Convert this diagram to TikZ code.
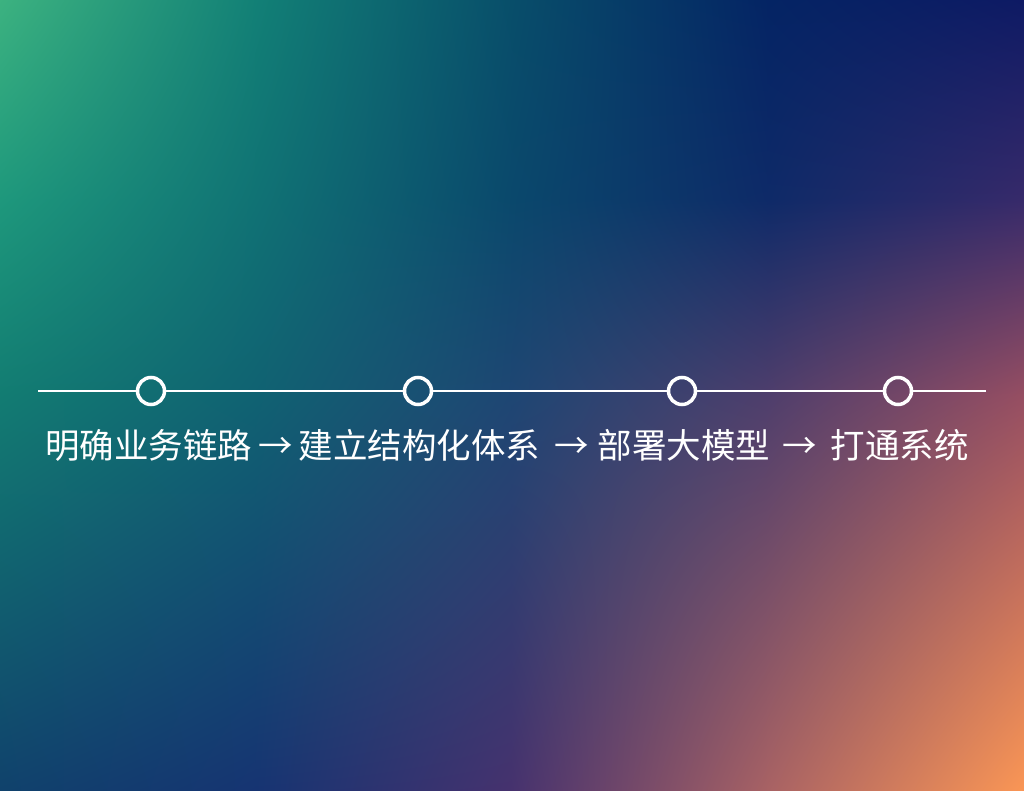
\documentclass[tikz,border=0pt]{standalone}
\usepackage{fontspec}
\newfontfamily\cjk{Noto Sans CJK SC}
\usetikzlibrary{positioning,shadings}
% background colours: four rows (top, upper, middle, bottom), five columns each
\definecolor{bgT0}{RGB}{60,178,128}
\definecolor{bgT1}{RGB}{18,128,118}
\definecolor{bgT2}{RGB}{8,78,106}
\definecolor{bgT3}{RGB}{4,36,100}
\definecolor{bgT4}{RGB}{14,26,100}
\definecolor{bgU0}{RGB}{30,152,124}
\definecolor{bgU1}{RGB}{16,114,116}
\definecolor{bgU2}{RGB}{10,72,108}
\definecolor{bgU3}{RGB}{14,42,104}
\definecolor{bgU4}{RGB}{55,42,106}
\definecolor{bgM0}{RGB}{18,124,114}
\definecolor{bgM1}{RGB}{16,98,114}
\definecolor{bgM2}{RGB}{30,70,115}
\definecolor{bgM3}{RGB}{78,62,108}
\definecolor{bgM4}{RGB}{150,78,98}
\definecolor{bgB0}{RGB}{16,66,108}
\definecolor{bgB1}{RGB}{22,52,114}
\definecolor{bgB2}{RGB}{70,50,110}
\definecolor{bgB3}{RGB}{168,98,100}
\definecolor{bgB4}{RGB}{250,150,85}
\tikzset{
  stop/.style={circle, draw=white, line width=3.5pt, minimum size=27pt, inner sep=0pt},
  rail/.style={draw=white, line width=2pt}
}
\begin{document}
\begin{tikzpicture}[x=1pt,y=1pt]
    \useasboundingbox (0,0) rectangle (1024,790);
    % background
    \foreach \i [evaluate=\i as \j using int(\i+1)] in {0,...,3} {
      \shade [upper left=bgT\i, upper right=bgT\j, lower left=bgU\i, lower right=bgU\j]
        (256*\i-0.5,589.5) rectangle (256*\j+0.5,790);
      \shade [upper left=bgU\i, upper right=bgU\j, lower left=bgM\i, lower right=bgM\j]
        (256*\i-0.5,394.5) rectangle (256*\j+0.5,590.5);
      \shade [upper left=bgM\i, upper right=bgM\j, lower left=bgB\i, lower right=bgB\j]
        (256*\i-0.5,0) rectangle (256*\j+0.5,395.5);
    }
    % timeline
    \coordinate (start) at (38,399);
    \coordinate (end) at (986,399);
    \node [stop] (s1) at (151,399) {};
    \node [stop] (s2) at (418,399) {};
    \node [stop] (s3) at (682,399) {};
    \node [stop] (s4) at (898,399) {};
    \draw [rail] (start) -- (s1);
    \draw [rail] (s1) -- (s2);
    \draw [rail] (s2) -- (s3);
    \draw [rail] (s3) -- (s4);
    \draw [rail] (s4) -- (end);
    \node [text=white, font=\cjk\fontsize{34.5}{40}\selectfont, inner sep=0pt] (steps) at (507,345)
      {明确业务链路\hspace{6pt}→\hspace{6pt}建立结构化体系\hspace{14pt}→\hspace{9pt}部署大模型\hspace{12pt}→\hspace{14pt}打通系统};
\end{tikzpicture}
\end{document}
